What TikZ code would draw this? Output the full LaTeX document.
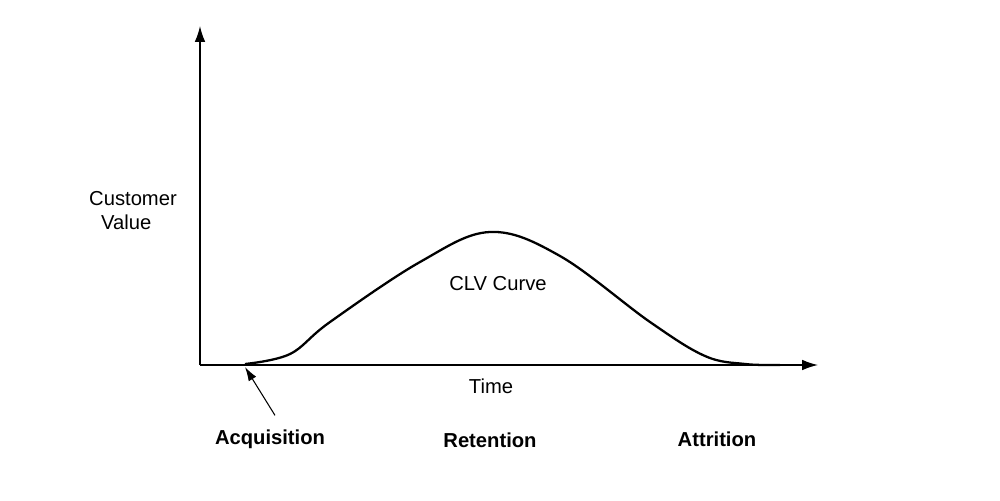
\documentclass[tikz,border=0pt]{standalone}
\usepackage{fontspec}
\setmainfont{Liberation Sans}
\begin{document}
\begin{tikzpicture}[x=0.02cm,y=-0.02cm,
  lbl/.style={font=\fontsize{11.5}{13.5}\selectfont},
  blbl/.style={font=\fontsize{11.5}{13.5}\selectfont\bfseries},
  axis/.style={line width=0.8pt,-{Latex[length=9pt,width=6pt]}}]
\usetikzlibrary{arrows.meta}
\useasboundingbox (0,0) rectangle (1000,500);
\coordinate (o) at (200,365);
\coordinate (ytop) at (200,26);
\coordinate (xend) at (818,365);
\draw[axis] (o) -- (ytop);
\draw[axis] (o) -- (xend);
\draw[line width=1.3pt] plot[smooth,tension=0.6] coordinates
 {(245,364) (290,354) (330,322) (420,262) (490,232) (560,256) (650,322) (705,356) (745,364) (780,365)};
\node[lbl,anchor=west] (cv1) at (83,199) {Customer};
\node[lbl,anchor=west] (cv2) at (95,222) {Value};
\node[lbl] (clv) at (498,284) {CLV Curve};
\node[lbl] (time) at (491,386) {Time};
\node[blbl] (acq) at (270,439) {Acquisition};
\node[blbl] (ret) at (490,440) {Retention};
\node[blbl] (att) at (717,439) {Attrition};
\coordinate (acqtip) at (245,367);
\draw[line width=0.6pt,-{Latex[length=8pt,width=5pt]}] (acq.north) ++(5,-8) -- (acqtip);
\end{tikzpicture}
\end{document}
